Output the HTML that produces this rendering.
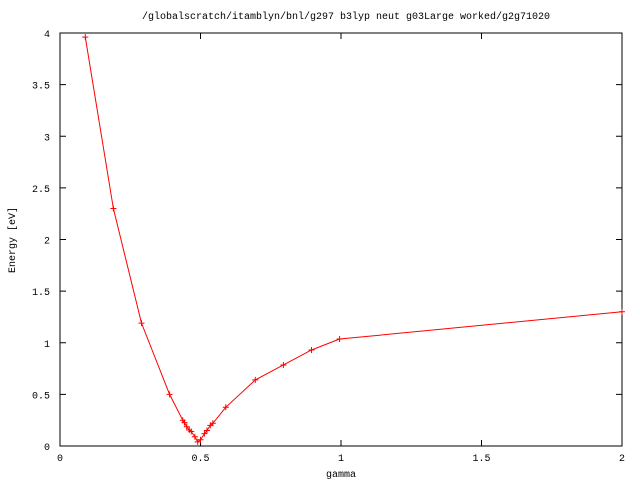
<!DOCTYPE html>
<html><head><meta charset="utf-8"><style>
body{margin:0;background:#fff}
svg{display:block;font-family:"Liberation Mono",monospace;font-size:10px}
</style></head><body>
<svg id="c" width="640" height="480">
<text x="346" y="19" text-anchor="middle">/globalscratch/itamblyn/bnl/g297 b3lyp neut g03Large worked/g2g71020</text>
<text x="341" y="477" text-anchor="middle">gamma</text>
<text transform="translate(15,240) rotate(-90)" text-anchor="middle">Energy [eV]</text>
<rect x="60" y="33" width="562" height="413" fill="none" stroke="#000"/>
<g id="ax"></g><g id="ser"></g>
</svg>
<script>
const xs=[0.09,0.19,0.29,0.39,0.437,0.443,0.451,0.46,0.467,0.48,0.49,0.50,0.514,0.523,0.535,0.544,0.59,0.695,0.795,0.895,0.995,2.0];
const ys=[3.96,2.30,1.19,0.50,0.25,0.226,0.187,0.155,0.14,0.09,0.04,0.06,0.12,0.15,0.2,0.22,0.375,0.64,0.785,0.93,1.036,1.30];
const xTicks=[0,0.5,1,1.5,2];
const xTickLabels=["0","0.5","1","1.5","2"];
const yTicks=[0,0.5,1,1.5,2,2.5,3,3.5,4];
const yTickLabels=["0","0.5","1","1.5","2","2.5","3","3.5","4"];
const L=60,R=622,T=33,B=446;
const X=v=>L+v/2*(R-L), Y=v=>B-v/4*(B-T);
const NS="http://www.w3.org/2000/svg";
const ax=document.getElementById('ax'), ser=document.getElementById('ser');
function mk(t,a,p){const e=document.createElementNS(NS,t);for(const k in a)e.setAttribute(k,a[k]);p.appendChild(e);return e;}
xTicks.forEach((v,i)=>{
 const x=X(v);
 const l=mk('path',{d:`M${x},${B}v-6M${x},${T}v6`,stroke:'#000'},ax);
 
 
 const t=mk('text',{x:x,y:B+15,'text-anchor':'middle'},ax);t.textContent=xTickLabels[i];
 
 
});
yTicks.forEach((v,i)=>{
 const y=Y(v);
 const l=mk('path',{d:`M${L},${y}h6M${R},${y}h-6`,stroke:'#000'},ax);
 
 
 const t=mk('text',{x:L-10,y:y+4,'text-anchor':'end'},ax);t.textContent=yTickLabels[i];
 
 
});
const pl=mk('polyline',{points:xs.map((x,i)=>X(x)+','+Y(ys[i])).join(' '),fill:'none',stroke:'#f00'},ser);


xs.forEach((x,i)=>{
 const px=X(x),py=Y(ys[i]);
 const m=mk('path',{d:`M${px-3},${py}h6M${px},${py-3}v6`,stroke:'#f00'},ser);
 
 
});
</script>
</body></html>
